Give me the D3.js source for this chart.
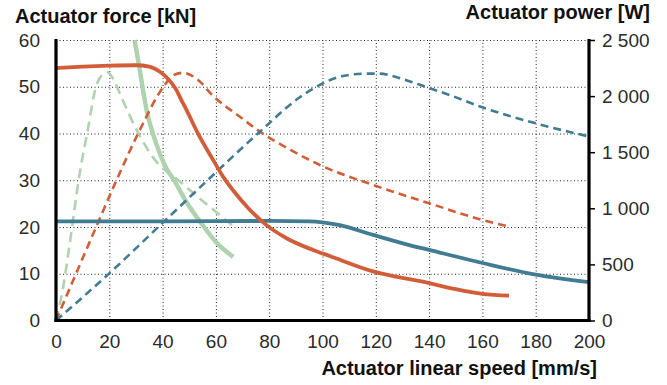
<!DOCTYPE html>
<html lang="en">
<head>
  <meta charset="UTF-8">
  <script src="https://d3js.org/d3.v7.min.js"></script>
  <style>
    body { margin: 0; background: #fff; }
    svg { display: block; font-family: "Liberation Sans", Arial, sans-serif; }
    .grid line { stroke: #222; stroke-width: 1; stroke-dasharray: 1,2.5; }
    .grid .domain { display: none; }
    .tick text { font-size: 19px; fill: #2b2b2b; }
    .title { font-size: 20px; font-weight: bold; fill: #111; }
  </style>
</head>
<body>
  <div id="chart"></div>

  <script>
    // speed [mm/s] vs force [kN] / power [W]
    var orangeForce = [[0,54],[10,54.3],[20,54.5],[30,54.6],[35,54.3],[39,53.2],[41.5,52],[45,49.5],[47,47.2],[49,45],[53,40.3],[59,34.3],[63,30.5],[66.5,27.8],[72.7,23.7],[79,20.4],[86.5,17.6],[96.4,15.1],[102.7,13.8],[119,10.5],[140,8.0],[150,6.7],[160,5.7],[170,5.3]];
    var orangePower = [[0,0],[15,830],[22.7,1250],[31.5,1700],[40.2,2080],[44,2185],[47.7,2208],[53,2150],[59,2000],[69,1816],[76.5,1683],[88,1520],[99,1386],[119,1208],[140,1045],[160,896],[170,837]];
    var blueForce = [[0,21.2],[40,21.2],[80,21.3],[95,21.2],[100,21.0],[106.5,20.4],[119,18.3],[131.5,16.3],[140,15.1],[160,12.3],[180,9.8],[200,8.2]];
    var bluePower = [[0,0],[20,420],[40,870],[60,1320],[76.5,1683],[91.5,1990],[99,2100],[107.7,2180],[116.5,2200],[121.5,2200],[129,2160],[139,2080],[147.7,2010],[160,1900],[180,1757],[200,1640]];
    var greenForce = [[29.5,60],[31.3,54],[34,45],[37.5,38],[41,33],[44.5,29.8],[49,25.3],[54.5,20.8],[60,16.8],[66.5,13.6]];
    var greenPower = [[0,0],[2.5,272],[5,658],[8.7,1282],[11.9,1697],[15,2083],[17,2180],[19.4,2212],[21.5,2150],[25,1965],[30.6,1683],[40,1357],[42.7,1312],[51.6,1133],[66.5,842]];

    var speedTicks = [0,20,40,60,80,100,120,140,160,180,200];
    var forceTicks = [0,10,20,30,40,50,60];
    var powerTicks = [0,500,1000,1500,2000,2500];

    var width = 667, height = 385;
    var pLeft = 56, pRight = 589, pTop = 40, pBottom = 320.5;

    var orange = "#d15e38", blue = "#427c92", green = "#afd3af";

    var svg = d3.select("#chart").append("svg")
      .attr("width", width).attr("height", height);

    var x = d3.scaleLinear().domain([0, 200]).range([pLeft, pRight]);
    var yF = d3.scaleLinear().domain([0, 60]).range([pBottom, pTop]);
    var yP = d3.scaleLinear().domain([0, 2500]).range([pBottom, pTop]);

    // grid
    svg.append("g").attr("class", "grid")
      .attr("transform", "translate(0," + pBottom + ")")
      .call(d3.axisBottom(x).tickValues(speedTicks.slice(1, -1)).tickSize(-(pBottom - pTop)).tickFormat(""));
    svg.append("g").attr("class", "grid")
      .attr("transform", "translate(" + pLeft + ",0)")
      .call(d3.axisLeft(yF).tickValues(forceTicks.slice(1)).tickSize(-(pRight - pLeft)).tickFormat(""));

    // series
    var lineF = d3.line().x(function (d) { return x(d[0]); }).y(function (d) { return yF(d[1]); }).curve(d3.curveMonotoneX);
    var lineP = d3.line().x(function (d) { return x(d[0]); }).y(function (d) { return yP(d[1]); }).curve(d3.curveMonotoneX);

    var series = [
      { data: greenPower, line: lineP, color: green, w: 2.6, dash: "10,6" },
      { data: greenForce, line: lineF, color: green, w: 4.5, dash: null },
      { data: orangePower, line: lineP, color: orange, w: 2.6, dash: "8,5" },
      { data: bluePower, line: lineP, color: blue, w: 2.6, dash: "8,5" },
      { data: blueForce, line: lineF, color: blue, w: 3.8, dash: null },
      { data: orangeForce, line: lineF, color: orange, w: 3.8, dash: null }
    ];
    series.forEach(function (s) {
      svg.append("path")
        .attr("d", s.line(s.data))
        .attr("fill", "none")
        .attr("stroke", s.color)
        .attr("stroke-width", s.w)
        .attr("stroke-dasharray", s.dash);
    });

    // axes
    var gl = svg.append("g")
      .attr("transform", "translate(" + pLeft + ",0)")
      .call(d3.axisLeft(yF).tickValues(forceTicks).tickSize(0).tickPadding(16));
    var gb = svg.append("g")
      .attr("transform", "translate(0," + pBottom + ")")
      .call(d3.axisBottom(x).tickValues(speedTicks).tickSize(0).tickPadding(14));
    var gr = svg.append("g")
      .attr("transform", "translate(" + pRight + ",0)")
      .call(d3.axisRight(yP).tickValues(powerTicks).tickSize(6).tickPadding(7)
        .tickFormat(function (d) { return d3.format(",")(d).replace(",", " "); }));

    [gl, gb, gr].forEach(function (g) {
      g.attr("font-family", null).attr("font-size", null);
      g.select(".domain").attr("stroke", "#000").attr("stroke-width", 3.2);
      g.selectAll(".tick line").attr("stroke", "#000").attr("stroke-width", 1.5);
    });
    gl.select(".domain").attr("d", "M0," + (pBottom + 1.6) + "V" + (pTop - 1));
    gr.select(".domain").attr("d", "M0," + (pBottom + 1.6) + "V" + (pTop - 1));
    gb.select(".domain").attr("d", "M" + (pLeft - 1.6) + ",0H" + (pRight + 1.6));

    // titles
    svg.append("text").attr("class", "title").attr("x", 15).attr("y", 23).text("Actuator force [kN]");
    svg.append("text").attr("class", "title").attr("x", 650).attr("y", 19).attr("text-anchor", "end").text("Actuator power [W]");
    svg.append("text").attr("class", "title").attr("x", 597).attr("y", 375).attr("text-anchor", "end").text("Actuator linear speed [mm/s]");
  </script>
</body>
</html>
